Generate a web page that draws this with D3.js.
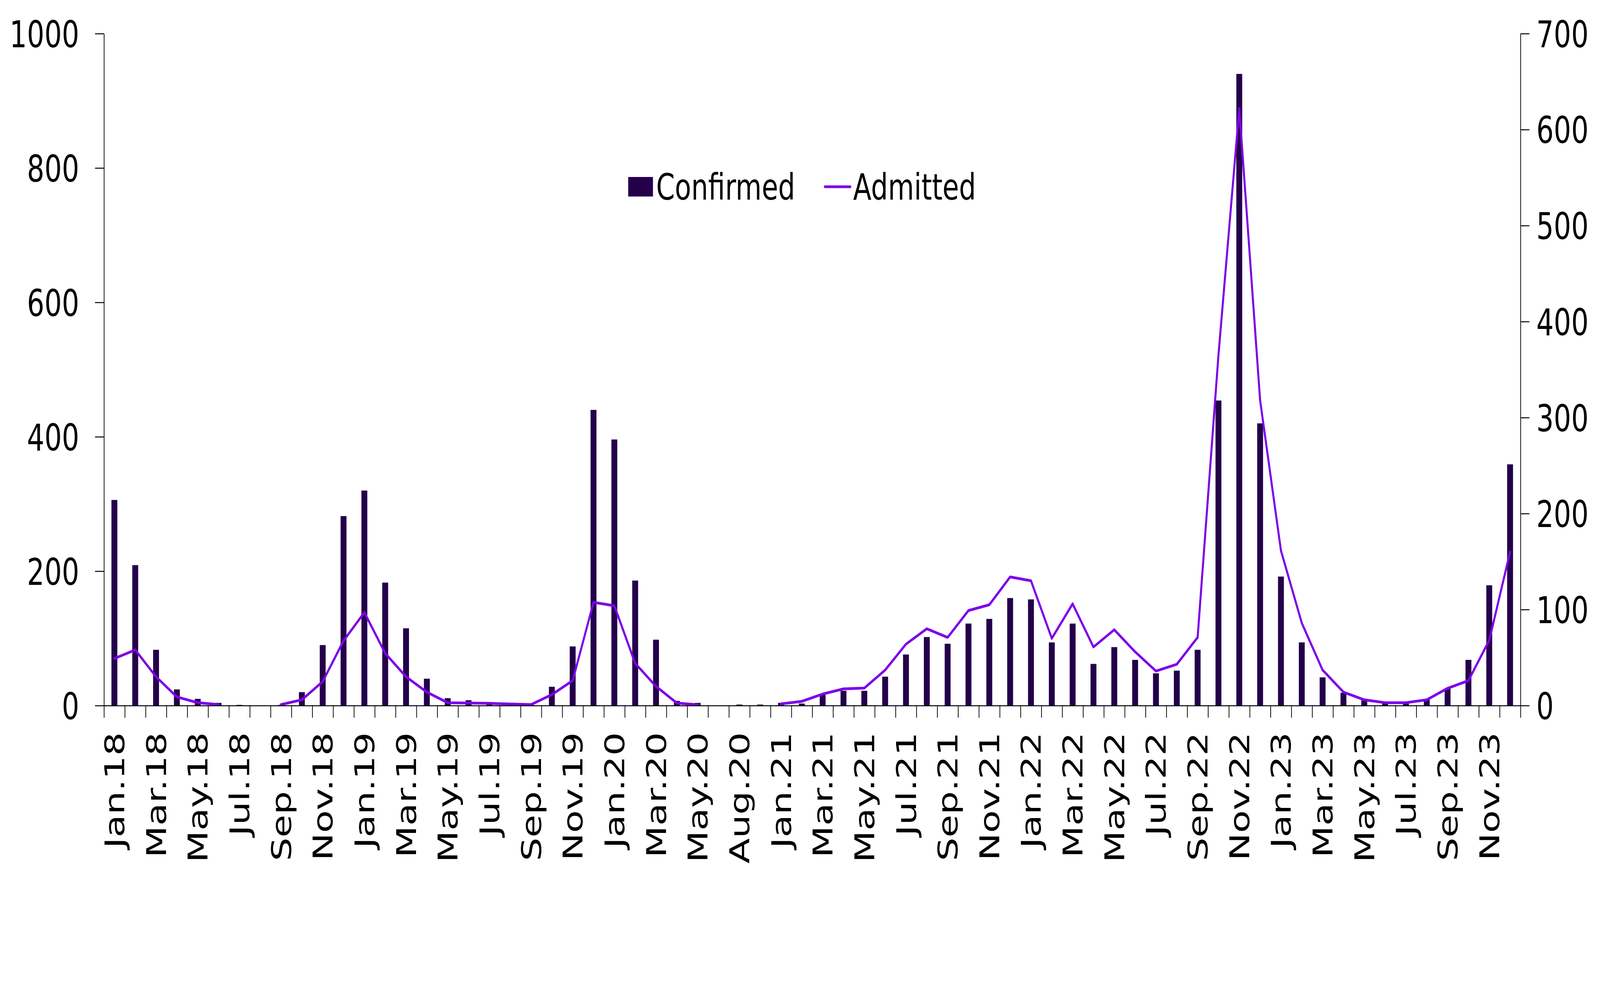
<!DOCTYPE html>
<html>
<head>
<meta charset="utf-8">
<script src="https://cdn.jsdelivr.net/npm/d3@7"></script>
<style>
  html, body { margin: 0; padding: 0; background: #ffffff; overflow: hidden; width: 100%; height: 100%; }
  svg { display: block; width: 100vw; height: 100vh; }
  text { font-family: "DejaVu Sans", Verdana, sans-serif; fill: #000; }
</style>
</head>
<body>
<svg id="chart" viewBox="0 0 5555 2575" preserveAspectRatio="none"></svg>
<script>
// ---------------- data ----------------
const categories = [
  "Jan.18","Feb.18","Mar.18","Apr.18","May.18","Jun.18","Jul.18","Aug.18","Sep.18","Oct.18","Nov.18","Dec.18",
  "Jan.19","Feb.19","Mar.19","Apr.19","May.19","Jun.19","Jul.19","Aug.19","Sep.19","Oct.19","Nov.19","Dec.19",
  "Jan.20","Feb.20","Mar.20","Apr.20","May.20","Jun.20","Aug.20","Oct.20",
  "Jan.21","Feb.21","Mar.21","Apr.21","May.21","Jun.21","Jul.21","Aug.21","Sep.21","Oct.21","Nov.21","Dec.21",
  "Jan.22","Feb.22","Mar.22","Apr.22","May.22","Jun.22","Jul.22","Aug.22","Sep.22","Oct.22","Nov.22","Dec.22",
  "Jan.23","Feb.23","Mar.23","Apr.23","May.23","Jun.23","Jul.23","Aug.23","Sep.23","Oct.23","Nov.23","Dec.23"
];

const confirmed = [
  306, 209, 83, 24, 10, 4, 1, 0, 1, 20, 90, 282,
  320, 183, 115, 40, 11, 8, 2, 4, 1, 28, 88, 440,
  396, 186, 98, 7, 4, 0, 1.5, 1.5,
  4, 3, 16, 22, 22, 43, 76, 102, 92, 122, 129, 160,
  158, 94, 122, 62, 87, 68, 48, 52, 83, 454, 940, 420,
  192, 94, 42, 19, 8, 4, 4, 9, 25, 68, 179, 359
];

const admitted = [
  49, 58, 30, 9, 3, 1, null, null, 1, 6, 25, 67.5,
  97, 54.5, 30, 14, 3, 2.6, 2.3, 1.6, 1, 11.4, 26, 107.5,
  104, 44, 20, 2.6, 0.8, null, null, null,
  1.8, 4.4, 12, 17.4, 18.2, 37, 64, 80, 71, 99, 105, 134,
  130, 70, 106, 61, 79, 56, 36, 43, 71, 365, 622, 318,
  161.5, 86, 37, 14, 6, 3, 3, 6, 18, 26, 68, 160
];

const tickLabels = [
  "Jan.18","Mar.18","May.18","Jul.18","Sep.18","Nov.18",
  "Jan.19","Mar.19","May.19","Jul.19","Sep.19","Nov.19",
  "Jan.20","Mar.20","May.20","Aug.20",
  "Jan.21","Mar.21","May.21","Jul.21","Sep.21","Nov.21",
  "Jan.22","Mar.22","May.22","Jul.22","Sep.22","Nov.22",
  "Jan.23","Mar.23","May.23","Jul.23","Sep.23","Nov.23"
];

const leftTicks = [0, 200, 400, 600, 800, 1000];
const rightTicks = [0, 100, 200, 300, 400, 500, 600, 700];
const seriesNames = ["Confirmed", "Admitted"];

// ---------------- layout ----------------
const plotLeft = 361, plotRight = 5279, plotTop = 86, plotBottom = 1806;
const barColor = "#24004b";
const lineColor = "#7d00e8";
const fontSize = 95;

const svg = d3.select("#chart");

const x = d3.scaleBand().domain(categories).range([plotLeft, plotRight]).paddingInner(0).paddingOuter(0);
const xb = d3.scaleLinear().domain([0, categories.length]).range([plotLeft, plotRight]);
const yL = d3.scaleLinear().domain([0, 1000]).range([plotBottom, plotTop]);
const yR = d3.scaleLinear().domain([0, 700]).range([plotBottom, plotTop]);

const barW = x.bandwidth() * 0.283;

// bars
svg.append("g")
  .selectAll("rect")
  .data(categories.map((c, i) => ({ c, v: confirmed[i] })))
  .join("rect")
  .attr("x", d => x(d.c) + (x.bandwidth() - barW) / 2)
  .attr("width", barW)
  .attr("y", d => yL(d.v))
  .attr("height", d => plotBottom - yL(d.v))
  .attr("fill", barColor);

// line
const lineGen = d3.line()
  .defined(d => d.v !== null)
  .x(d => x(d.c) + x.bandwidth() / 2)
  .y(d => yR(d.v));

svg.append("path")
  .datum(categories.map((c, i) => ({ c, v: admitted[i] })))
  .attr("d", lineGen)
  .attr("fill", "none")
  .attr("stroke", lineColor)
  .attr("stroke-width", 7)
  .attr("stroke-linejoin", "round")
  .attr("stroke-linecap", "round");

// axes styling helper
function styleAxis(g) {
  g.selectAll("path.domain").attr("stroke", "#000").attr("stroke-width", 2.5);
  g.selectAll(".tick line").attr("stroke", "#000").attr("stroke-width", 2.5);
  g.selectAll("text").style("font-family", "\"DejaVu Sans\", Verdana, sans-serif")
    .style("font-size", fontSize + "px").attr("fill", "#000");
}

// left axis
const gL = svg.append("g")
  .attr("transform", `translate(${plotLeft},0)`)
  .call(d3.axisLeft(yL).tickValues(leftTicks).tickSize(31).tickSizeOuter(0).tickPadding(55).tickFormat(d3.format("d")));
styleAxis(gL);
gL.selectAll("text").attr("dy", "0.36em");

// right axis
const gR = svg.append("g")
  .attr("transform", `translate(${plotRight},0)`)
  .call(d3.axisRight(yR).tickValues(rightTicks).tickSize(31).tickSizeOuter(0).tickPadding(24).tickFormat(d3.format("d")));
styleAxis(gR);
gR.selectAll("text").attr("dy", "0.36em");

// bottom axis: boundary ticks
const gB = svg.append("g")
  .attr("transform", `translate(0,${plotBottom})`)
  .call(d3.axisBottom(xb).tickValues(d3.range(categories.length + 1)).tickSize(31).tickSizeOuter(0).tickFormat(""));
styleAxis(gB);

// bottom axis: labels
const gBL = svg.append("g")
  .attr("transform", `translate(0,${plotBottom})`)
  .call(d3.axisBottom(x).tickValues(tickLabels).tickSize(0).tickPadding(0));
gBL.select("path.domain").remove();
styleAxis(gBL);
gBL.selectAll(".tick text")
  .attr("transform", "rotate(-90)")
  .attr("x", -68)
  .attr("y", 0)
  .attr("dy", "0.36em")
  .attr("text-anchor", "end");

// legend
const leg = svg.append("g");
leg.append("rect").attr("x", 2181).attr("y", 453).attr("width", 86).attr("height", 50).attr("fill", barColor);
leg.append("text").attr("x", 2278).attr("y", 511).style("font-size", "93px").text(seriesNames[0]);
leg.append("line").attr("x1", 2864).attr("x2", 2952).attr("y1", 478).attr("y2", 478)
  .attr("stroke", lineColor).attr("stroke-width", 7).attr("stroke-linecap", "round");
leg.append("text").attr("x", 2962).attr("y", 511).style("font-size", "93px").text(seriesNames[1]);
</script>
</body>
</html>
